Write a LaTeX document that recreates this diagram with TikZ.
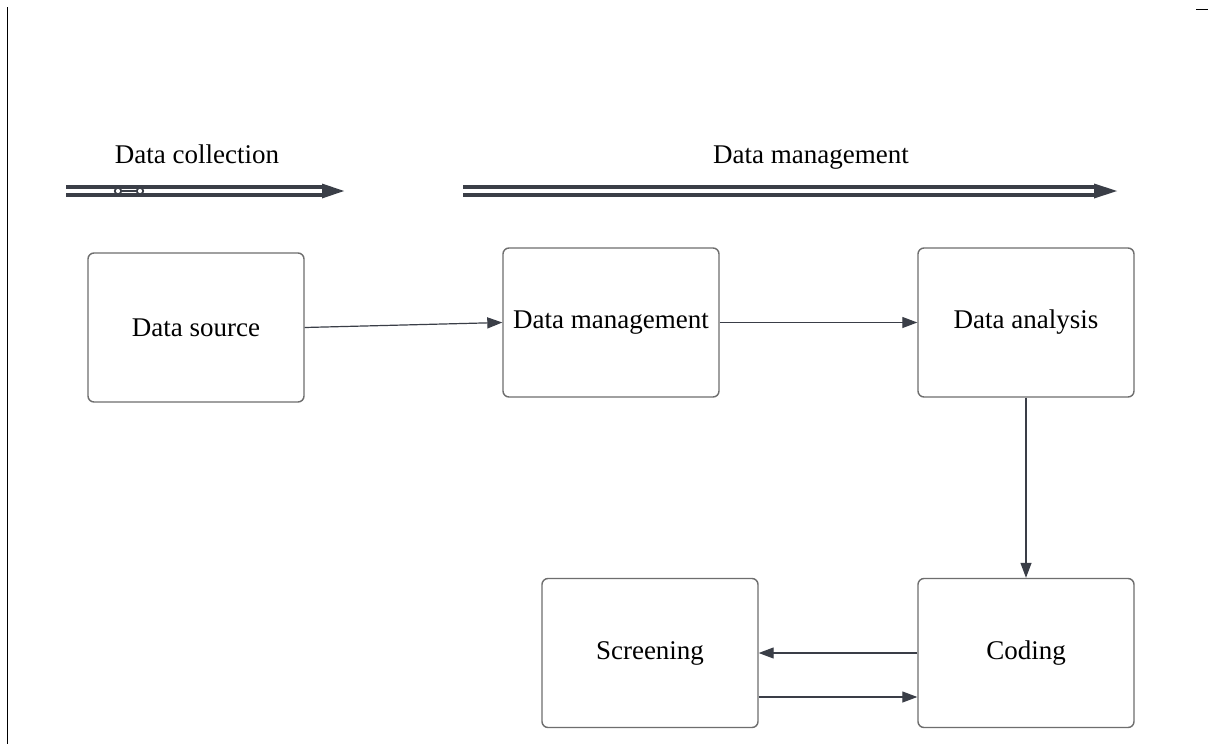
\documentclass[tikz,border=0pt]{standalone}
\usepackage{fontspec}
\setmainfont{Liberation Serif}
\usetikzlibrary{arrows.meta}
\definecolor{boxline}{HTML}{6E6E6E}
\definecolor{ink}{HTML}{3A3E47}
\tikzset{
  stage/.style={draw=boxline, line width=1.4pt, rounded corners=6pt, fill=white,
    minimum width=216pt, minimum height=149pt, inner sep=0pt,
    font=\fontsize{27}{30}\selectfont},
  heading/.style={font=\fontsize{27}{30}\selectfont, inner sep=0pt, anchor=base},
  link/.style={draw=ink, line width=1.2pt, -{Triangle[length=15pt,width=11pt]}},
  rail/.style={draw=ink, line width=4.2pt},
  railtip/.style={fill=ink},
  ring/.style={draw=ink, line width=1.8pt, fill=white}
}
\begin{document}
\begin{tikzpicture}[x=1pt,y=-1pt]
\useasboundingbox (0,0) rectangle (1208,744);
\fill[white] (0,0) rectangle (1208,744);

% page edge marks
\draw[black, line width=1.6pt] (7.5,7) -- (7.5,744);
\draw[black, line width=1.4pt] (1196,9.5) -- (1208,9.5);

% phase headings
\node[heading] (hcoll) at (197,163) {Data collection};
\node[heading] (hman)  at (811,163) {Data management};

% phase arrow: data collection
\coordinate (c0) at (66,191);
\coordinate (c1) at (322,191);
\coordinate (c2) at (344,191);
\draw[rail] ([yshift=-4.3pt]c0) -- ([yshift=-4.3pt]c1);
\draw[rail] ([yshift=4.3pt]c0) -- ([yshift=4.3pt]c1);
\fill[railtip] ([yshift=-7.5pt]c1) -- (c2) -- ([yshift=7.5pt]c1) -- cycle;
\draw[ink, line width=1.8pt] (118,191) -- (140,191);
\draw[ring] (118,191) circle (3.2pt);
\draw[ring] (140,191) circle (3.2pt);

% phase arrow: data management
\coordinate (m0) at (463,191);
\coordinate (m1) at (1094,191);
\coordinate (m2) at (1117,191);
\draw[rail] ([yshift=-4.3pt]m0) -- ([yshift=-4.3pt]m1);
\draw[rail] ([yshift=4.3pt]m0) -- ([yshift=4.3pt]m1);
\fill[railtip] ([yshift=-7.5pt]m1) -- (m2) -- ([yshift=7.5pt]m1) -- cycle;

% stages
\node[stage] (src)  at (196,327.5) {Data source};
\node[stage] (mgmt) at (611,322.5) {Data management};
\node[stage] (ana)  at (1026,322.5) {Data analysis};
\node[stage] (cod)  at (1026,653) {Coding};
\node[stage] (scr)  at (650,653) {Screening};

% flow
\draw[link] (src.east) -- (mgmt.west);
\draw[link] (mgmt.east) -- (ana.west);
\draw[link] (ana.south) -- (cod.north);
\draw[link] (cod.west) -- (scr.east);
\draw[link] ([yshift=-44pt]scr.east) -- ([yshift=-44pt]cod.west);
\end{tikzpicture}
\end{document}
